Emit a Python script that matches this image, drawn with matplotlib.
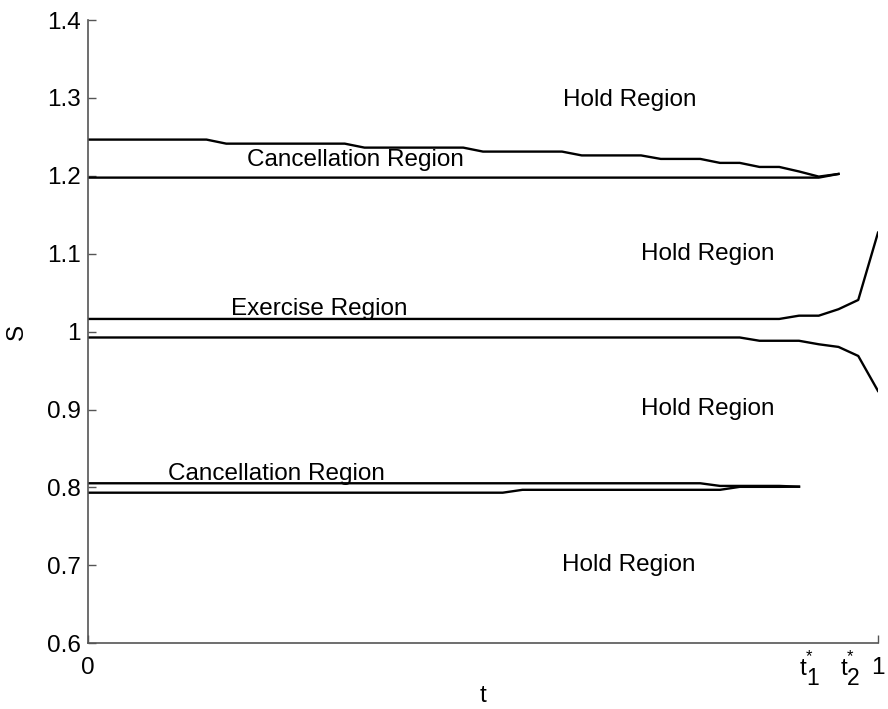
import numpy as np
import matplotlib
matplotlib.use("Agg")
import matplotlib.pyplot as plt

plt.rcParams['font.family'] = ['Liberation Sans', 'DejaVu Sans']

# time grid: 41 points, step 0.025
t = np.arange(41) / 40.0

# upper cancellation region (k = 0..38)
upper_cancel_top = [1.2465]*7 + [1.2413]*7 + [1.2362]*6 + [1.2311]*5 + [1.2262]*4 + \
                   [1.2217]*3 + [1.2166]*2 + [1.2114]*2 + [1.2056, 1.1990, 1.2024]
upper_cancel_bot = [1.1977]*38 + [1.2024]

# exercise region boundaries (k = 0..40)
exercise_top = [1.0163]*36 + [1.0205, 1.0205, 1.0288, 1.0407, 1.1271]
exercise_bot = [0.9925]*34 + [0.9883]*3 + [0.9838, 0.9804, 0.9688, 0.9239]

# lower cancellation region (k = 0..36)
lower_cancel_top = [0.8054]*32 + [0.8020]*4 + [0.8010]
lower_cancel_bot = [0.7933]*22 + [0.7970]*11 + [0.8008]*3 + [0.8010]

region_labels = ["Hold Region", "Cancellation Region", "Hold Region", "Exercise Region",
                 "Hold Region", "Cancellation Region", "Hold Region"]
label_pos = [(0.686, 1.2974), (0.338, 1.2204), (0.785, 1.0998), (0.2925, 1.0291),
             (0.785, 0.9008), (0.238, 0.8173), (0.685, 0.7005)]

xtick_vals = [0, 0.910, 0.961, 1]
xtick_labels = ["0", "", "", "1"]
star_ticks = [(0.910, "1"), (0.961, "2")]
ytick_vals = [0.6, 0.7, 0.8, 0.9, 1.0, 1.1, 1.2, 1.3, 1.4]
ytick_labels = ["0.6", "0.7", "0.8", "0.9", "1", "1.1", "1.2", "1.3", "1.4"]

FS = 17.5

fig = plt.figure(figsize=(8.88, 7.09), dpi=100)
ax = fig.add_axes([88/888, 1-643.3/709, 790/888, (643.3-20)/709])

lw = 1.7
ax.plot(t[:len(upper_cancel_top)], upper_cancel_top, color='black', lw=lw)
ax.plot(t[:len(upper_cancel_bot)], upper_cancel_bot, color='black', lw=lw)
ax.plot(t[:len(exercise_top)], exercise_top, color='black', lw=lw)
ax.plot(t[:len(exercise_bot)], exercise_bot, color='black', lw=lw)
ax.plot(t[:len(lower_cancel_top)], lower_cancel_top, color='black', lw=lw)
ax.plot(t[:len(lower_cancel_bot)], lower_cancel_bot, color='black', lw=lw)

for lab, (x, y) in zip(region_labels, label_pos):
    ax.text(x, y, lab, ha='center', va='center', fontsize=FS, color='black')

ax.set_xlim(0, 1)
ax.set_ylim(0.6, 1.4)
ax.set_xticks(xtick_vals)
ax.set_xticklabels(xtick_labels, fontsize=FS)
ax.set_yticks(ytick_vals)
ax.set_yticklabels(ytick_labels, fontsize=FS)
ax.tick_params(direction='in', length=5.5, width=1, color='#555555')
ax.tick_params(axis='y', pad=5)
ax.tick_params(axis='x', pad=10)
for tk in ax.xaxis.get_major_ticks()[1:3]:
    tk.tick1line.set_visible(False)

# t_i^* labels drawn as plain text pieces
for xv, sub in star_ticks:
    kw = dict(xy=(xv, 0), xycoords=('data', 'axes fraction'), textcoords='offset pixels',
              ha='center', va='baseline', annotation_clip=False)
    ax.annotate("t", xytext=(-3.5, -32), fontsize=FS, **kw)
    ax.annotate(sub, xytext=(6, -42), fontsize=16.5, **kw)
    ax.annotate("*", xytext=(2.5, -18), fontsize=12, **kw)

for s in ['top', 'right']:
    ax.spines[s].set_visible(False)
for s in ['left', 'bottom']:
    ax.spines[s].set_color('#555555')
    ax.spines[s].set_linewidth(1.2)

ax.set_xlabel('t', fontsize=FS, labelpad=4)
ax.set_ylabel('S', fontsize=FS, labelpad=14)

fig.savefig('out.png', dpi=100)
